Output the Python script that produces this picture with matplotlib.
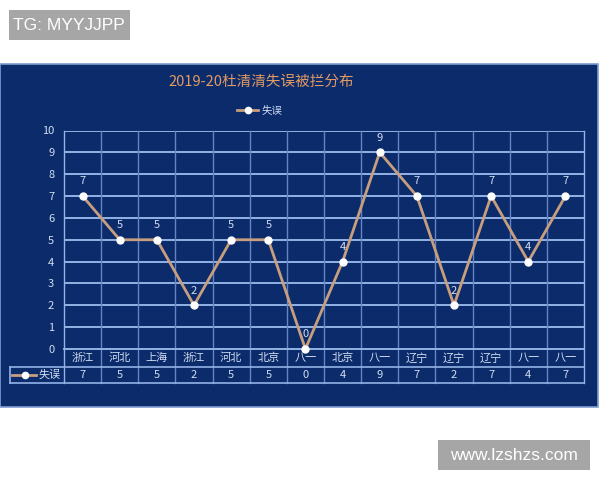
import matplotlib
matplotlib.use("Agg")
import matplotlib.pyplot as plt
from matplotlib.patches import Rectangle
from matplotlib.lines import Line2D
from matplotlib.transforms import blended_transform_factory

plt.rcParams['font.family'] = ['Noto Sans CJK SC', 'DejaVu Sans']

title = "2019-20杜清清失误被拦分布"
series_name = "失误"
categories = ["浙江", "河北", "上海", "浙江", "河北", "北京", "八一",
              "北京", "八一", "辽宁", "辽宁", "辽宁", "八一", "八一"]
values = [7, 5, 5, 2, 5, 5, 0, 4, 9, 7, 2, 7, 4, 7]
yticks = list(range(0, 11))

W, H = 600, 480
fig = plt.figure(figsize=(6, 4.8), dpi=100)
fig.patch.set_facecolor("white")

def fx(x):
    return x / W

def fy(y):
    return 1 - y / H

NAVY = "#0b2b6b"
GRID = "#93b2e6"
VGRID = "#6584c4"
LINE = "#c79e7e"
TXT = "#d3def2"
ORANGE = "#e39a63"

# panel
fig.patches.append(Rectangle((fx(0), fy(407)), fx(598), fy(64) - fy(407),
                             transform=fig.transFigure, facecolor=NAVY,
                             edgecolor="#7f9bd0", linewidth=1.2, zorder=-10))

# watermark boxes
fig.patches.append(Rectangle((fx(9), fy(40)), fx(121), fy(10) - fy(40),
                             transform=fig.transFigure, facecolor="#a6a6a6",
                             edgecolor="none", zorder=-10))
fig.text(fx(13), fy(25.5), "TG: MYYJJPP", color="white", fontsize=12.5,
         family="Liberation Sans", va="center", ha="left")
fig.patches.append(Rectangle((fx(438), fy(470)), fx(152), fy(440) - fy(470),
                             transform=fig.transFigure, facecolor="#a6a6a6",
                             edgecolor="none", zorder=-10))
fig.text(fx(514), fy(455.5), "www.lzshzs.com", color="white", fontsize=12.5,
         family="Liberation Sans", va="center", ha="center")

# title & legend
fig.text(fx(261), fy(82), title, color=ORANGE, fontsize=10.5,
         ha="center", va="center")
fig.lines.append(Line2D([fx(237), fx(258)], [fy(110), fy(110)],
                        transform=fig.transFigure, color=LINE, lw=2))
fig.lines.append(Line2D([fx(247.5)], [fy(110)], transform=fig.transFigure,
                        marker="o", ms=4.5, mfc="white", mec="white", lw=0))
fig.text(fx(262), fy(110), series_name, color=TXT, fontsize=7.5,
         ha="left", va="center")

# axes
ax = fig.add_axes([fx(64), fy(349), fx(584) - fx(64), fy(130.5) - fy(349)])
ax.set_facecolor("none")
n = len(categories)
xs = list(range(n))
ax.set_xlim(-0.5, n - 0.5)
ax.set_ylim(0, 10)
for s in ax.spines.values():
    s.set_visible(False)
ax.set_yticks(yticks)
ax.set_yticklabels([str(t) for t in yticks])
ax.tick_params(axis="y", length=0, pad=7, colors=TXT, labelsize=8)
ax.set_xticks([])
for t in yticks[1:]:
    ax.axhline(t, color=GRID, lw=1.4, zorder=1)

# vertical boundaries through plot + table
bt = blended_transform_factory(ax.transData, fig.transFigure)
for b in [i - 0.5 for i in range(n + 1)]:
    ax.plot([b, b], [fy(130.5), fy(383)], transform=bt,
            color=VGRID if -0.5 < b < n - 0.5 else GRID,
            lw=1.0, clip_on=False, zorder=1)
# table horizontal lines
ax.plot([-0.5, n - 0.5], [fy(349), fy(349)], transform=bt, color=GRID, lw=1.4,
        clip_on=False, zorder=1)
ft = fig.transFigure
for yy in (367, 383):
    fig.lines.append(Line2D([fx(9.5), fx(584)], [fy(yy), fy(yy)], transform=ft,
                            color=GRID, lw=1.2))
fig.lines.append(Line2D([fx(9.5), fx(9.5)], [fy(367), fy(383)], transform=ft,
                        color=GRID, lw=1.2))
fig.lines.append(Line2D([fx(12), fx(36)], [fy(375), fy(375)], transform=ft,
                        color=LINE, lw=2))
fig.lines.append(Line2D([fx(24.5)], [fy(375)], transform=ft, marker="o", ms=4.5,
                        mfc="white", mec="white", lw=0))
fig.text(fx(61), fy(375), series_name, color=TXT, fontsize=8, ha="right", va="center")

for i, (c, v) in enumerate(zip(categories, values)):
    ax.text(i, fy(358), c, transform=bt, ha="center", va="center", color=TXT,
            fontsize=8, clip_on=False)
    ax.text(i, fy(375), str(v), transform=bt, ha="center", va="center", color=TXT,
            fontsize=8, clip_on=False)

# series
ax.plot(xs, values, color=LINE, lw=2, marker="o", ms=5, mfc="white", mec="white",
        clip_on=False, zorder=3)
for i, v in enumerate(values):
    ax.annotate(str(v), (i, v), xytext=(0, 10.5), textcoords="offset points",
                ha="center", va="center", color=TXT, fontsize=8, zorder=4)

fig.savefig("out.png", dpi=100, facecolor="white")
